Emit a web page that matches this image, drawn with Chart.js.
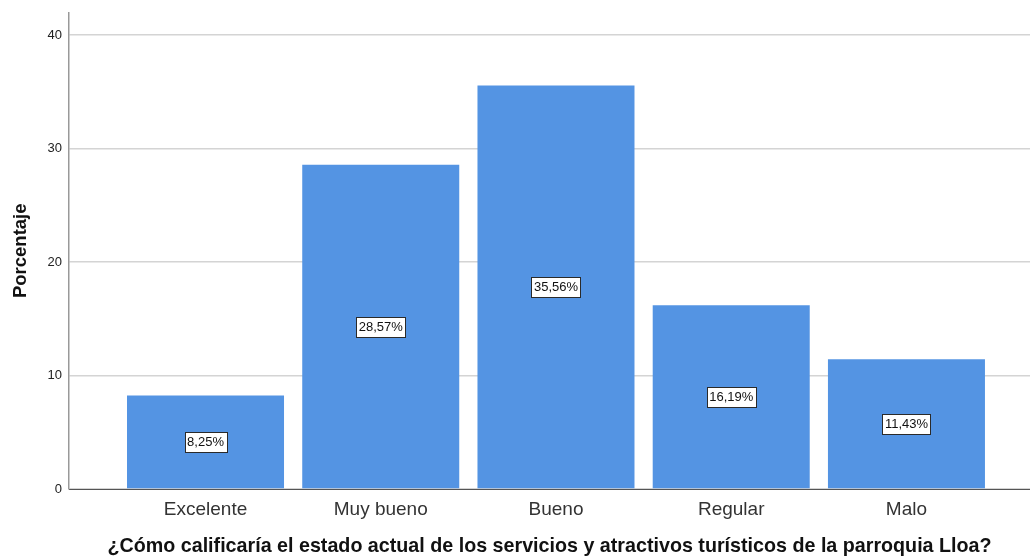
<!DOCTYPE html>
<html>
<head>
<meta charset="utf-8">
<script src="https://cdn.jsdelivr.net/npm/chart.js@4.4.1/dist/chart.umd.min.js"></script>
<style>
  html, body { margin: 0; padding: 0; background: #ffffff; }
  #wrap { width: 1030px; height: 558px; }
</style>
</head>
<body>
<div id="wrap"><canvas id="chart"></canvas></div>
<script>
// Chart data
const categories = ['Excelente', 'Muy bueno', 'Bueno', 'Regular', 'Malo'];
const percentages = [8.25, 28.57, 35.56, 16.19, 11.43];
const yTicks = [0, 10, 20, 30, 40];

const FONT = "Arial, 'Liberation Sans', sans-serif";

// White boxed value labels in the middle of each bar
const valueLabels = {
    id: 'valueLabels',
    afterDatasetsDraw(chart) {
        const ctx = chart.ctx;
        const meta = chart.getDatasetMeta(0);
        ctx.save();
        ctx.font = '13px ' + FONT;
        ctx.textAlign = 'center';
        ctx.textBaseline = 'middle';
        meta.data.forEach((bar, i) => {
            const text = percentages[i].toFixed(2).replace('.', ',') + '%';
            const cx = bar.x;
            const cy = (bar.y + bar.base) / 2;
            const w = Math.round(ctx.measureText(text).width + 5);
            const h = 20;
            const x0 = Math.round(cx - w / 2) + 0.5;
            const y0 = Math.round(cy - h / 2) + 0.5;
            ctx.fillStyle = '#ffffff';
            ctx.fillRect(x0, y0, w, h);
            ctx.strokeStyle = '#2a2a2a';
            ctx.lineWidth = 1;
            ctx.strokeRect(x0, y0, w, h);
            ctx.fillStyle = '#111111';
            ctx.fillText(text, cx, cy + 1);
        });
        ctx.restore();
    }
};

const ctx = document.getElementById('chart').getContext('2d');
new Chart(ctx, {
    type: 'bar',
    data: {
        datasets: [{
            data: percentages.map((v, i) => ({ x: i + 1, y: v })),
            backgroundColor: '#5494e3',
            borderWidth: 0,
            barPercentage: 0.896,
            categoryPercentage: 1
        }]
    },
    options: {
        responsive: true,
        maintainAspectRatio: false,
        animation: false,
        layout: { padding: { top: 12.5, right: 0, left: 0, bottom: 0 } },
        plugins: {
            legend: { display: false },
            tooltip: { enabled: false }
        },
        scales: {
            x: {
                type: 'linear',
                offset: false,
                min: 0.221,
                max: 5.705,
                afterBuildTicks: s => { s.ticks = categories.map((c, i) => ({ value: i + 1 })); },
                afterFit: s => { s.height = 69; s.paddingLeft = 0; s.paddingRight = 0; },
                grid: { display: false, drawTicks: false, offset: false },
                border: { display: true, color: '#555555', width: 1 },
                ticks: {
                    padding: 9,
                    color: '#333333',
                    font: { family: FONT, size: 19 },
                    callback: v => categories[v - 1]
                },
                title: {
                    display: true,
                    text: '¿Cómo calificaría el estado actual de los servicios y atractivos turísticos de la parroquia Lloa?',
                    color: '#111111',
                    font: { family: FONT, size: 19.7, weight: 'bold' },
                    padding: { top: 0, bottom: 0 }
                }
            },
            y: {
                min: 0,
                max: 42,
                afterBuildTicks: s => { s.ticks = yTicks.map(v => ({ value: v })); },
                afterFit: s => { s.width = 69; s.paddingTop = 0; s.paddingBottom = 0; },
                grid: {
                    color: '#d4d4d4',
                    lineWidth: 1.5,
                    drawTicks: false
                },
                border: { display: true, color: '#999999', width: 1.5 },
                ticks: {
                    padding: 7,
                    color: '#222222',
                    font: { family: FONT, size: 13 }
                },
                title: {
                    display: true,
                    text: 'Porcentaje',
                    color: '#111111',
                    font: { family: FONT, size: 18.5, weight: 'bold' },
                    padding: { top: 10, bottom: 0 }
                }
            }
        }
    },
    plugins: [valueLabels]
});
</script>
</body>
</html>
